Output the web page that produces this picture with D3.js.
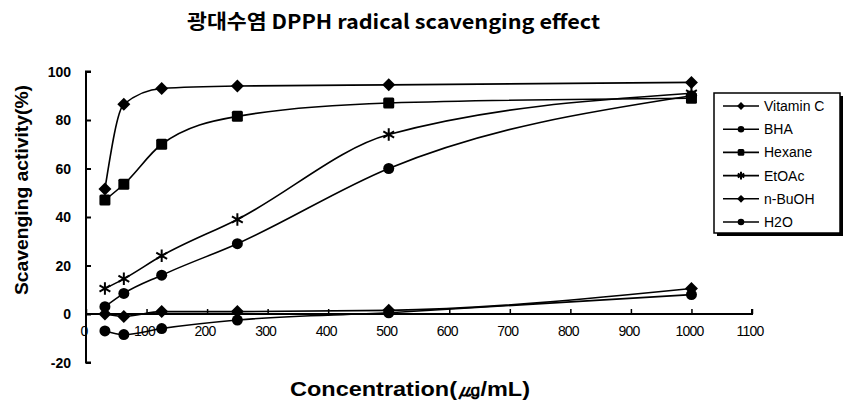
<!DOCTYPE html>
<html>
<head>
<meta charset="utf-8">
<script src="https://cdn.jsdelivr.net/npm/d3@7"></script>
<style>
  body { margin: 0; background: #fff; }
  text { font-family: "Liberation Sans", Arial, sans-serif; fill: #000; }
</style>
</head>
<body>
<div id="chart"></div>
<script>
// concentrations (ug/mL)
const concentrations = [31.25, 62.5, 125, 250, 500, 1000];

// scavenging activity (%)
const vitaminC = [51.5, 86.5, 93, 94, 94.5, 95.5];
const bha      = [3, 8.5, 16, 29, 60, 90];
const hexane   = [47, 53.5, 70, 81.5, 87, 89];
const etoac    = [10.5, 14.5, 24, 39, 74, 91];
const nBuOH    = [0, -1, 1, 1, 1.5, 10.5];
const h2o      = [-7, -8.5, -6, -2.5, 0.5, 8];

const seriesNames = ['Vitamin C', 'BHA', 'Hexane', 'EtOAc', 'n-BuOH', 'H2O'];
const seriesValues = [vitaminC, bha, hexane, etoac, nBuOH, h2o];
const seriesMarkers = ['diamond', 'circle', 'square', 'star', 'diamond', 'circle'];

const xTicks = [0, 100, 200, 300, 400, 500, 600, 700, 800, 900, 1000, 1100];
const yTicks = [-20, 0, 20, 40, 60, 80, 100];

const width = 845, height = 403;

const svg = d3.select('#chart').append('svg')
    .attr('width', width)
    .attr('height', height);

const x = d3.scaleLinear().domain([0, 1100]).range([86, 752]);
const y = d3.scaleLinear().domain([-20, 100]).range([362.5, 71.5]);

// title
svg.append('text')
    .attr('x', 187).attr('y', 29)
    .attr('textLength', 413)
    .attr('lengthAdjust', 'spacingAndGlyphs')
    .style('font-family', '"Noto Sans CJK KR", "Liberation Sans", sans-serif')
    .style('font-weight', 'bold')
    .style('font-size', '20px')
    .text('광대수염 DPPH radical scavenging effect');

// y axis
const yAxis = svg.append('g')
    .attr('transform', `translate(${x(0)},0)`)
    .call(d3.axisRight(y).tickValues(yTicks).tickSize(5).tickFormat(''));
yAxis.select('.domain').attr('stroke-width', 2).attr('d', `M5,${y(-20)}H0V${y(100)}H5`);
yAxis.selectAll('.tick line').attr('stroke-width', 2);

svg.append('g').selectAll('text')
    .data(yTicks)
    .join('text')
    .attr('x', 71)
    .attr('y', d => y(d) + 5)
    .attr('text-anchor', 'end')
    .style('font-size', '14px')
    .style('font-weight', 'bold')
    .text(d => d);

// x axis along y = 0
const xAxis = svg.append('g')
    .attr('transform', `translate(0,${y(0)})`)
    .call(d3.axisTop(x).tickValues(xTicks).tickSize(5).tickFormat(''));
xAxis.select('.domain').attr('stroke-width', 2).attr('d', `M${x(0)},0H${x(1100)}V-5`);
xAxis.selectAll('.tick line').attr('stroke-width', 1.5);

svg.append('g').selectAll('text')
    .data(xTicks)
    .join('text')
    .attr('x', d => x(d) - 2)
    .attr('y', y(0) + 22)
    .attr('text-anchor', 'middle')
    .style('font-size', '14px')
    .style('letter-spacing', '-0.8px')
    .text(d => d);

// axis titles
svg.append('text')
    .attr('transform', `translate(28,190) rotate(-90)`)
    .attr('text-anchor', 'middle')
    .attr('textLength', 210)
    .attr('lengthAdjust', 'spacingAndGlyphs')
    .style('font-weight', 'bold')
    .style('font-size', '18px')
    .text('Scavenging activity(%)');

svg.append('text')
    .attr('x', 290).attr('y', 396)
    .attr('textLength', 240)
    .attr('lengthAdjust', 'spacingAndGlyphs')
    .style('font-weight', 'bold')
    .style('font-size', '21px')
    .text('Concentration(㎍/mL)');

// markers
function drawMarker(g, type, cx, cy, s) {
  if (type === 'diamond') {
    const h = 6.5 * s;
    g.append('path')
        .attr('d', `M${cx},${cy - h}L${cx + h},${cy}L${cx},${cy + h}L${cx - h},${cy}Z`);
  } else if (type === 'square') {
    g.append('rect')
        .attr('x', cx - 5.5 * s).attr('y', cy - 5.5 * s)
        .attr('width', 11 * s).attr('height', 11 * s)
        .attr('rx', 1.5);
  } else if (type === 'circle') {
    g.append('circle')
        .attr('cx', cx).attr('cy', cy).attr('r', 5.5 * s);
  } else if (type === 'star') {
    g.append('path')
        .attr('d', d3.symbol(d3.symbolAsterisk, 110 * s * s)())
        .attr('transform', `translate(${cx},${cy})`)
        .attr('stroke', '#000').attr('stroke-width', 2);
  }
}

const line = d3.line()
    .x((d, i) => x(concentrations[i]))
    .y(d => y(d))
    .curve(d3.curveMonotoneX);

const plot = svg.append('g');
seriesValues.forEach((vals, k) => {
  plot.append('path')
      .datum(vals)
      .attr('d', line)
      .attr('fill', 'none')
      .attr('stroke', '#000')
      .attr('stroke-width', 1.6);
  const mg = plot.append('g').attr('fill', '#000');
  vals.forEach((v, i) => drawMarker(mg, seriesMarkers[k], x(concentrations[i]), y(v), 1));
});

// legend
const lg = svg.append('g');
lg.append('rect')
    .attr('x', 717).attr('y', 96).attr('width', 126).attr('height', 140)
    .attr('fill', '#000');
lg.append('rect')
    .attr('x', 714).attr('y', 93).attr('width', 126).attr('height', 140)
    .attr('fill', '#fff').attr('stroke', '#000').attr('stroke-width', 1.5);

seriesNames.forEach((name, k) => {
  const ly = 106 + k * 23.2;
  lg.append('line')
      .attr('x1', 723).attr('x2', 759)
      .attr('y1', ly).attr('y2', ly)
      .attr('stroke', '#000').attr('stroke-width', 1.6);
  const mg = lg.append('g').attr('fill', '#000');
  drawMarker(mg, seriesMarkers[k], 741, ly, 0.6);
  lg.append('text')
      .attr('x', 764).attr('y', ly + 5)
      .style('font-size', '14px')
      .text(name);
});
</script>
</body>
</html>
